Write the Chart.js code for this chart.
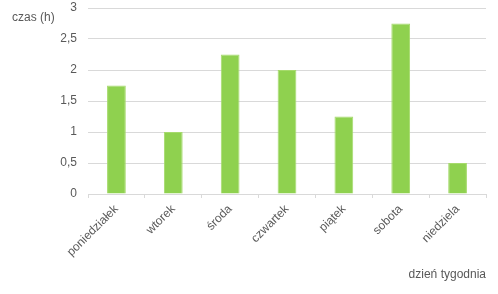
<!DOCTYPE html>
<html>
<head>
<meta charset="utf-8">
<script src="https://cdn.jsdelivr.net/npm/chart.js@4"></script>
<style>
  html, body { margin: 0; padding: 0; background: #fff; }
  #wrap { width: 498px; height: 294px; }
</style>
</head>
<body>
<div id="wrap"><canvas id="chart" width="498" height="294"></canvas></div>
<script>
const days = ['poniedziałek', 'wtorek', 'środa', 'czwartek', 'piątek', 'sobota', 'niedziela'];
const hours = [1.75, 1, 2.25, 2, 1.25, 2.75, 0.5];
const yTicks = [0, 0.5, 1, 1.5, 2, 2.5, 3];
const yTitle = 'czas (h)';
const xTitle = 'dzień tygodnia';

const FONT = "'Liberation Sans', Arial, sans-serif";
const TEXT = '#595959';
const GRID = '#d9d9d9';

// axis titles sit where Excel puts them, not where Chart.js would
const axisTitles = {
  id: 'axisTitles',
  afterDraw(chart) {
    const { ctx, chartArea } = chart;
    ctx.save();
    ctx.font = '12px ' + FONT;
    ctx.fillStyle = TEXT;
    ctx.textBaseline = 'middle';
    ctx.textAlign = 'left';
    ctx.fillText(yTitle, 12, 18);
    ctx.textAlign = 'right';
    ctx.fillText(xTitle, chartArea.right, 275);
    ctx.restore();
  }
};

new Chart(document.getElementById('chart'), {
  type: 'bar',
  data: {
    labels: days,
    datasets: [{
      data: hours,
      backgroundColor: '#8fd14f',
      borderColor: '#a6da6c',
      borderWidth: 1,
      categoryPercentage: 1,
      barPercentage: 0.33
    }]
  },
  options: {
    responsive: false,
    animation: false,
    layout: { padding: { left: 0, right: 12, top: 0, bottom: 0 } },
    plugins: { legend: { display: false }, tooltip: { enabled: false } },
    scales: {
      x: {
        grid: { drawOnChartArea: false, drawTicks: true, tickLength: 4, color: GRID },
        border: { display: true, color: GRID },
        ticks: {
          color: TEXT,
          font: { family: FONT, size: 12 },
          maxRotation: 45,
          minRotation: 45,
          padding: 4
        },
        afterFit(scale) { scale.height = 100; }
      },
      y: {
        min: 0,
        max: 3,
        afterBuildTicks(scale) { scale.ticks = yTicks.map(v => ({ value: v })); },
        grid: { color: GRID, drawTicks: false },
        border: { display: false },
        ticks: {
          color: TEXT,
          font: { family: FONT, size: 12 },
          padding: 11,
          callback: v => String(v).replace('.', ',')
        },
        afterFit(scale) {
          scale.width = 88;
          scale.paddingTop = 8;
        }
      }
    }
  },
  plugins: [axisTitles]
});
</script>
</body>
</html>
